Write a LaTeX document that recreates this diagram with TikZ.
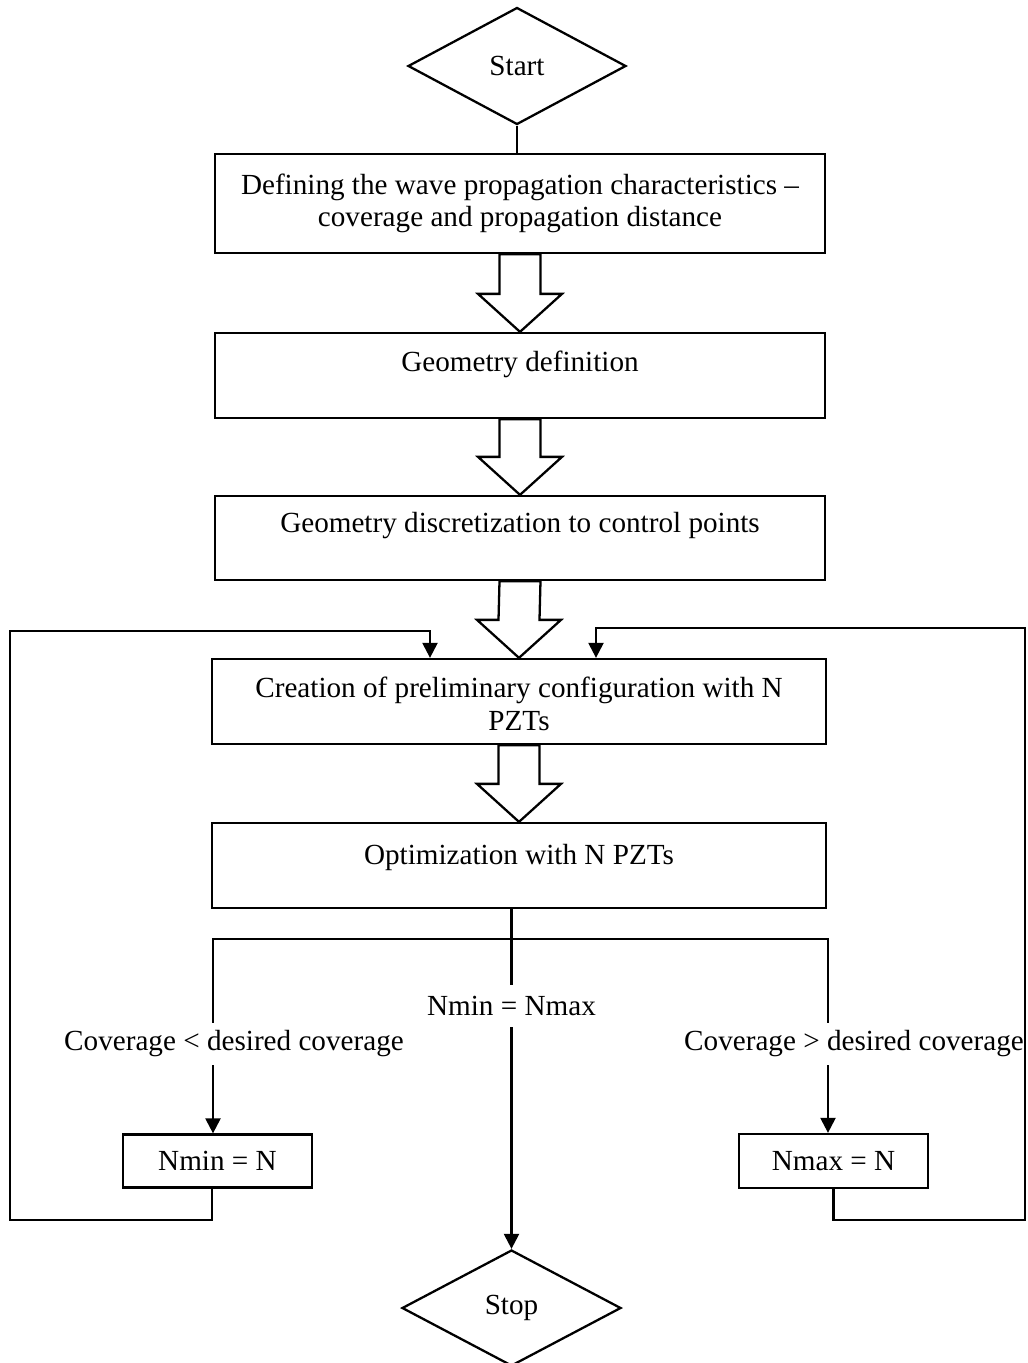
\documentclass[tikz,border=0pt]{standalone}
\usepackage{fontspec}
\setmainfont{Liberation Serif}
\usetikzlibrary{shapes.geometric,arrows.meta}
\begin{document}
\begin{tikzpicture}[x=0.02cm,y=-0.02cm,
  line width=1.3pt,
  font=\fontsize{16.6}{18.5}\selectfont,
  box/.style={draw, line width=1.3pt, inner sep=0pt, align=center},
  dia/.style={draw, diamond, line width=1.3pt, inner sep=0pt},
  lbl/.style={inner sep=0pt, minimum height=0.8cm},
  arr/.style={-{Triangle[length=0.3cm,width=0.3cm]}},
  hollow/.style={draw, line width=1.3pt, line join=miter, fill=white}]
\useasboundingbox (0,0) rectangle (1028,1363);

% hollow arrow between two boxes
\newcommand\harrow[2]{%
  \draw[hollow] ([xshift=-0.41cm]#1.south) -- ([xshift=0.41cm]#1.south)
    -- ([xshift=0.41cm,yshift=0.76cm]#2.north) -- ([xshift=0.84cm,yshift=0.76cm]#2.north)
    -- (#2.north) -- ([xshift=-0.84cm,yshift=0.76cm]#2.north)
    -- ([xshift=-0.41cm,yshift=0.76cm]#2.north) -- cycle;}

\node[dia, minimum width=218*0.02cm, minimum height=117*0.02cm] (start) at (517,66) {Start};

\node[box, minimum width=610*0.02cm, minimum height=99*0.02cm] (b1) at (520,203.5)
  {Defining the wave propagation characteristics --\\coverage and propagation distance};
\node[box, minimum width=610*0.02cm, minimum height=85*0.02cm,
  label={[anchor=center,yshift=-0.66cm]north:Geometry definition}] (b2) at (520,375.5) {};
\node[box, minimum width=610*0.02cm, minimum height=84*0.02cm,
  label={[anchor=center,yshift=-0.62cm]north:Geometry discretization to control points}] (b3) at (520,538) {};
\node[box, minimum width=614*0.02cm, minimum height=85*0.02cm,
  label={[anchor=center,align=center,yshift=-0.92cm]north:Creation of preliminary configuration with N\\PZTs}] (b4) at (519,701.5) {};
\node[box, minimum width=614*0.02cm, minimum height=85*0.02cm,
  label={[anchor=center,yshift=-0.72cm]north:Optimization with N PZTs}] (b5) at (519,865.5) {};

\node[box, minimum width=189*0.02cm, minimum height=53*0.02cm] (nmin) at (217.5,1161) {Nmin = N};
\node[box, minimum width=189*0.02cm, minimum height=54*0.02cm] (nmax) at (833.5,1161) {Nmax = N};

\node[dia, minimum width=219*0.02cm, minimum height=116*0.02cm] (stop) at (511.5,1308) {Stop};

\node[lbl] (mid) at (511.5,1006) {Nmin = Nmax};
\node[lbl] (lblL) at (234,1044) {Coverage {<} desired coverage};
\node[lbl] (lblR) at (854,1044) {Coverage {>} desired coverage};

\coordinate (cx) at (511.5,939);
\coordinate (bl) at (213,939);
\coordinate (br) at (828,939);
\coordinate (ltA) at (430,631);
\coordinate (rtA) at (596,628);

% start to first box
\draw (start.south) -- (start.south |- b1.north);

% hollow arrows
\harrow{b1}{b2}
\harrow{b2}{b3}
\harrow{b3}{b4}
\harrow{b4}{b5}

% branches
\draw (cx |- b5.south) -- (mid.north);
\draw (bl |- lblL.north) -- (bl) -- (br) -- (br |- lblR.north);
\draw[arr] (bl |- lblL.south) -- (bl |- nmin.north);
\draw[arr] (br |- lblR.south) -- (br |- nmax.north);
\draw[arr] (mid.south) -- (stop.north);

% feedback loops
\draw[arr] ([xshift=-0.11cm]nmin.south) |- (10,1220) -- (10,631) -- (ltA) -- (ltA |- b4.north);
\draw[arr] (nmax.south) |- (1025,1220) -- (1025,628) -- (rtA) -- (rtA |- b4.north);
\end{tikzpicture}
\end{document}
